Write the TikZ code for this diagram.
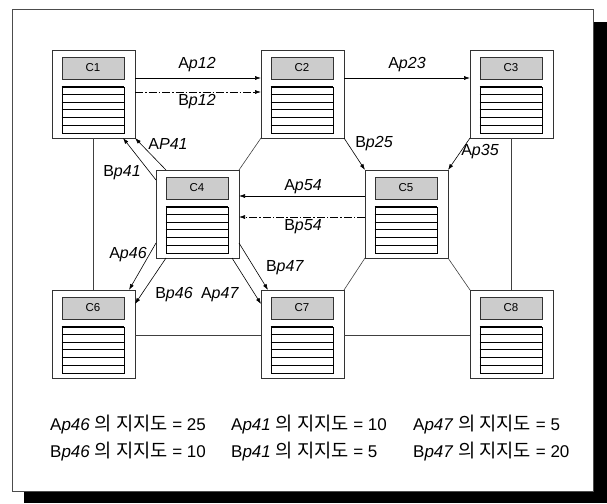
\documentclass[tikz,border=0pt]{standalone}
\usepackage{fontspec}
\setmainfont{Liberation Sans}
\newfontfamily\krfont[Scale=1.1]{Noto Sans CJK KR}
\usetikzlibrary{arrows.meta,calc}

% one server box: name, left x, top y, caption
\newcommand\serverbox[4]{%
  \node[srv] (#1) at (#2+41.5,#3+44) {};
  \node[hdr] (#1t) at (#2+41,#3+18) {#4};
  \node[lst] (#1l) at (#2+41,#3+60) {};
  \foreach \k in {1,...,5}
    \draw[line width=0.6pt] ($(#1l.north west)+(0,\k*7.667)$) -- ($(#1l.north east)+(0,\k*7.667)$);
  \draw[line width=1.3pt] (#1l.north west) -- (#1l.north east);
}
\newcommand\lab[2]{#1\textit{#2}}

\begin{document}
\begin{tikzpicture}[x=1pt,y=-1pt,
  srv/.style={draw=black!80, line width=0.8pt, fill=white, minimum width=83pt,
    minimum height=88pt, inner sep=0pt, outer sep=0pt},
  hdr/.style={draw=black!80, line width=0.7pt, fill=black!20, minimum width=62pt,
    minimum height=22pt, inner sep=0pt, font=\fontsize{11.5}{11.5}\selectfont},
  lst/.style={draw=black, line width=0.7pt, minimum width=62pt, minimum height=46pt,
    inner sep=0pt},
  flow/.style={-{Latex[length=6pt,width=4pt]}, line width=0.6pt},
  alt/.style={flow, dash pattern=on 8pt off 2pt on 1.5pt off 2pt},
  link/.style={line width=0.6pt, draw=black!75},
  lbl/.style={font=\fontsize{16}{16}\selectfont, inner sep=0pt},
  note/.style={font=\fontsize{17}{17}\selectfont, inner sep=0pt, anchor=west}]

\useasboundingbox (0,0) rectangle (607,503);

% frame with drop shadow
\fill[black] (24,22) rectangle (607,503);
\draw[fill=white, draw=black!70, line width=0.8pt] (12,9) rectangle (593,491);

% servers
\serverbox{c1}{52}{50}{C1}
\serverbox{c2}{261}{50}{C2}
\serverbox{c3}{470}{50}{C3}
\serverbox{c4}{156}{170}{C4}
\serverbox{c5}{365}{170}{C5}
\serverbox{c6}{52}{290}{C6}
\serverbox{c7}{261}{290}{C7}
\serverbox{c8}{470}{290}{C8}

% plain links
\draw[link] (c2.south west) -- (c4.north east);
\draw[link] (c5.south west) -- (c7.north east);
\draw[link] (c5.south east) -- (c8.north west);
\draw[link] (c1.south) -- (c6.north);
\draw[link] (c3.south) -- (c8.north);
\draw[link] ($(c6.east)+(0,1)$) -- ($(c7.west)+(0,1)$);
\draw[link] ($(c7.east)+(0,1)$) -- ($(c8.west)+(0,1)$);

% directed flows
\draw[flow] ($(c1.north east)+(0,28)$) -- ($(c2.north west)+(0,28)$);
\draw[alt]  ($(c1.north east)+(0,42)$) -- ($(c2.north west)+(0,42)$);
\draw[flow] ($(c2.north east)+(0,28)$) -- ($(c3.north west)+(0,28)$);
\draw[flow] ($(c5.north west)+(0,26)$) -- ($(c4.north east)+(0,26)$);
\draw[alt]  ($(c5.north west)+(0,47)$) -- ($(c4.north east)+(0,47)$);
\draw[flow] (c2.south east) -- (c5.north west);
\draw[flow] (c3.south west) -- (c5.north east);
\draw[flow] ($(c4.north west)+(10,0)$) -- (c1.south east);
\draw[flow] ($(c4.north west)+(0,10)$) -- ($(c1.south east)+(-12,0)$);
\draw[flow] ($(c4.south west)+(0,-15)$) -- ($(c6.north east)+(-6,0)$);
\draw[flow] ($(c4.south west)+(10,0)$) -- ($(c6.north east)+(0,14)$);
\draw[flow] ($(c4.south east)+(-7,0)$) -- ($(c7.north west)+(0,14)$);
\draw[flow] ($(c4.south east)+(0,-15)$) -- ($(c7.north west)+(7,0)$);

% flow labels
\node[lbl] (a12) at (197,65)  {\lab{A}{p12}};
\node[lbl] (b12) at (197,102) {\lab{B}{p12}};
\node[lbl] (a23) at (407,65)  {\lab{A}{p23}};
\node[lbl] (b25) at (374,144) {\lab{B}{p25}};
\node[lbl] (a35) at (480,152) {\lab{A}{p35}};
\node[lbl] (a41) at (168,144) {\lab{A}{P41}};
\node[lbl] (b41) at (122,173) {\lab{B}{p41}};
\node[lbl] (a54) at (303,187) {\lab{A}{p54}};
\node[lbl] (b54) at (303,227) {\lab{B}{p54}};
\node[lbl] (a46) at (128,255) {\lab{A}{p46}};
\node[lbl] (b46) at (174,295) {\lab{B}{p46}};
\node[lbl] (a47) at (220,295) {\lab{A}{p47}};
\node[lbl] (b47) at (285,268) {\lab{B}{p47}};

% support values
\node[note] (n1) at (50,425)  {\lab{A}{p46} {\krfont 의 지지도} = 25};
\node[note] (n2) at (231,425) {\lab{A}{p41} {\krfont 의 지지도} = 10};
\node[note] (n3) at (413,425) {\lab{A}{p47} {\krfont 의 지지도} = 5};
\node[note] (n4) at (50,452)  {\lab{B}{p46} {\krfont 의 지지도} = 10};
\node[note] (n5) at (231,452) {\lab{B}{p41} {\krfont 의 지지도} = 5};
\node[note] (n6) at (413,452) {\lab{B}{p47} {\krfont 의 지지도} = 20};
\end{tikzpicture}
\end{document}
